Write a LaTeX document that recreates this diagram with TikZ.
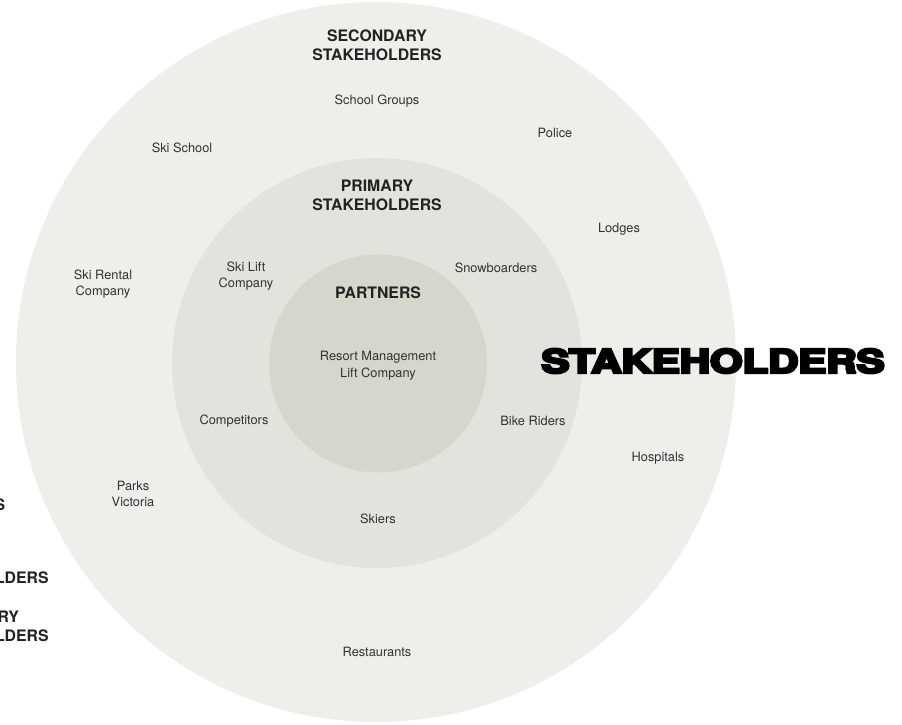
\documentclass[tikz,border=0pt]{standalone}
\usepackage{fontspec}
\setmainfont{TeX Gyre Heros}
\newfontfamily\heavy{TeX Gyre Heros}
\definecolor{ringA}{RGB}{239,238,234}
\definecolor{ringB}{RGB}{227,226,220}
\definecolor{ringC}{RGB}{215,214,205}
\definecolor{labtxt}{RGB}{50,50,50}
\definecolor{headtxt}{RGB}{34,34,34}
\newcommand{\heavytext}[1]{\special{pdf:literal direct 2 Tr 0.75 w}#1\special{pdf:literal direct 0 Tr 0.4 w}}
\begin{document}
\begin{tikzpicture}[x=1pt,y=-1pt,
  ring/.style={circle,inner sep=0pt,draw=none},
  lab/.style={text=labtxt,align=center,inner sep=0pt,font=\fontsize{12.8}{16.5}\selectfont},
  head/.style={text=headtxt,align=center,inner sep=0pt,font=\fontsize{15.8}{19}\selectfont\bfseries},
  legend/.style={text=headtxt,align=left,inner sep=0pt,anchor=west,font=\fontsize{15.8}{19}\selectfont\bfseries}]
\useasboundingbox (0,0) rectangle (902,725);
\fill[white] (0,0) rectangle (902,725);
\node[ring,fill=ringA,minimum size=720pt] (outer) at (376,362) {};
\node[ring,fill=ringB,minimum size=410pt] (middle) at (377,363) {};
\node[ring,fill=ringC,minimum size=218pt] (inner) at (378,363.5) {};
% secondary ring
\node[head] (sechead) at (377,45.5) {SECONDARY\\STAKEHOLDERS};
\node[lab] (school) at (377,101) {School Groups};
\node[lab] (skischool) at (182,148) {Ski School};
\node[lab] (police) at (555,133) {Police};
\node[lab] (lodges) at (619,229) {Lodges};
\node[lab] (rental) at (103,284) {Ski Rental\\Company};
\node[lab] (hospitals) at (658,458) {Hospitals};
\node[lab] (parks) at (133,494) {Parks\\Victoria};
\node[lab] (restaurants) at (377,652) {Restaurants};
% primary ring
\node[head] (primhead) at (377,195.5) {PRIMARY\\STAKEHOLDERS};
\node[lab] (skilift) at (246,276) {Ski Lift\\Company};
\node[lab] (snow) at (496,268) {Snowboarders};
\node[lab] (comp) at (234,421) {Competitors};
\node[lab] (bike) at (533,421) {Bike Riders};
\node[lab] (skiers) at (378,519) {Skiers};
% partners
\node[head] (parthead) at (378,293) {PARTNERS};
\node[lab] (resort) at (378,365.5) {Resort Management\\Lift Company};
% legend (cut by the left edge, as in the reference)
\node[legend] (legA) at (-81,505) {PARTNERS};
\node[legend] (legB) at (-81,568.5) {PRIMARY\\STAKEHOLDERS};
\node[legend] (legC) at (-81,626.5) {SECONDARY\\STAKEHOLDERS};
% title
\node[inner sep=0pt,text=black] (title) at (713,361) {\resizebox{343pt}{24pt}{\heavy\bfseries\heavytext{STAKEHOLDERS}}};
\end{tikzpicture}
\end{document}
